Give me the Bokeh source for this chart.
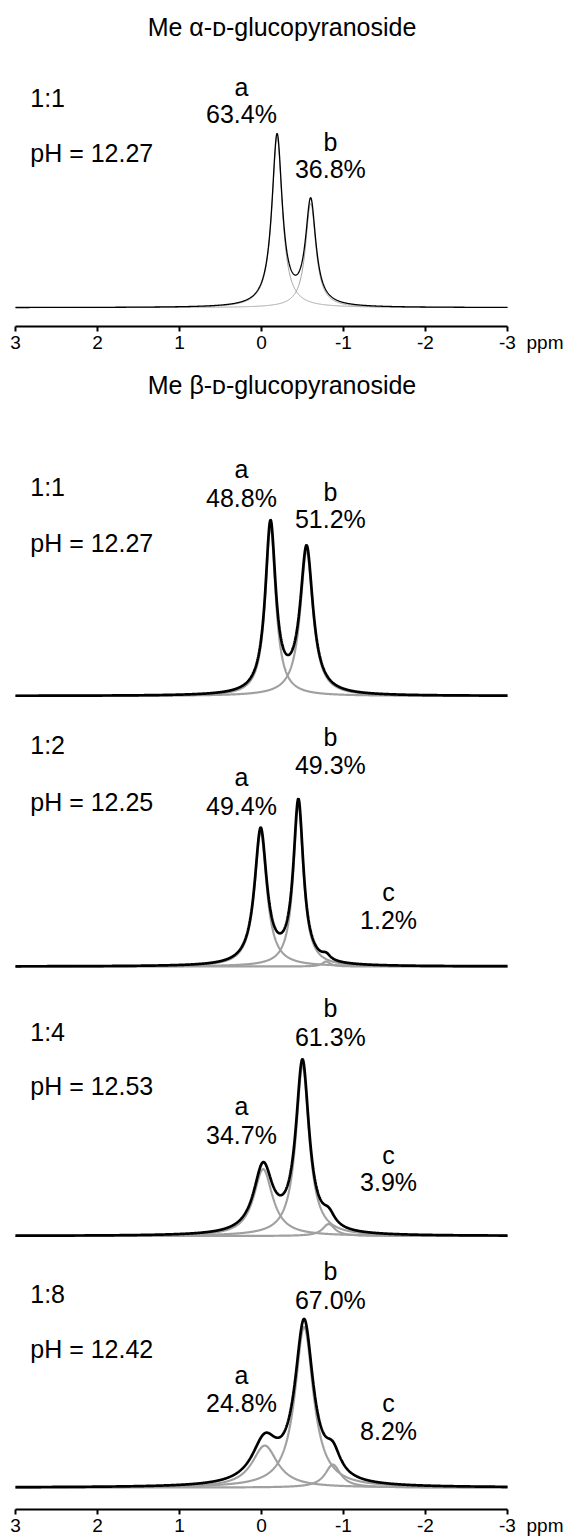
import numpy as np
from bokeh.plotting import figure
from bokeh.layouts import column
from bokeh.models import Range1d, FixedTicker, ColumnDataSource, CustomJSTickFormatter
from bokeh.core.properties import value
from bokeh.embed import file_html
from bokeh.resources import INLINE

FONT = "Liberation Sans"

# ---------------- data ----------------
titles = ["Me \u03b1-\u1d05-glucopyranoside", "Me \u03b2-\u1d05-glucopyranoside"]
ratios = ["1:1", "1:1", "1:2", "1:4", "1:8"]
ph_values = ["pH = 12.27", "pH = 12.27", "pH = 12.25", "pH = 12.53", "pH = 12.42"]
species = [["a", "b"], ["a", "b"], ["a", "b", "c"], ["a", "b", "c"], ["a", "b", "c"]]
percents = [["63.4%", "36.8%"], ["48.8%", "51.2%"], ["49.4%", "49.3%", "1.2%"],
            ["34.7%", "61.3%", "3.9%"], ["24.8%", "67.0%", "8.2%"]]
# fitted Lorentzian components: centre (ppm), peak height, half width at half height (ppm)
centers = [[-0.19, -0.60], [-0.11, -0.55], [0.01, -0.45, -0.79],
           [-0.02, -0.50, -0.82], [-0.04, -0.52, -0.87]]
heights = [[172, 105], [170, 146], [135, 163, 5], [67, 171, 12], [42, 161, 23]]
widths = [[0.076, 0.076], [0.077, 0.094], [0.09, 0.074, 0.06],
          [0.14, 0.098, 0.092], [0.19, 0.136, 0.115]]
tick_values = [3, 2, 1, 0, -1, -2, -3]
unit_label = "ppm"

# ---------------- layout (positions, not data) ----------------
PX_PER_PPM = 82.0
FIG_W = 563
X_LEFT = 3 + 15 / PX_PER_PPM
X_RIGHT = X_LEFT - FIG_W / PX_PER_PPM
BOTTOM = 27
base_off = [19, 815, 544, 274, 22]
lab_x = [0.244, -0.84, -1.55]
LET_UP = 8   # vertical correction for letters
NUM_UP = 9   # vertical correction for numbers
lab_y = [[[214, 186], [159, 131]],
         [[219, 189], [196, 168]],
         [[182, 152], [222, 193], [67, 38]],
         [[122, 92], [220, 190], [73, 45]],
         [[105, 76], [209, 179], [77, 48]]]
left_x = 2.82
left_y = [[202, 147], [200, 144], [213, 156], [195, 141], [185, 130]]

xs = np.linspace(3.0, -3.0, 1801)

TXT = "25px"
TICK = "19px"
PAD = "\\u00a0" * 9  # keeps "-3" centred on its tick while the unit follows it
GAP = "\\u00a0" * 2


def lorentz(x, c, h, w):
    return h / (1.0 + ((x - c) / w) ** 2)


def make_fig(title, height, top):
    p = figure(width=FIG_W, height=height,
               x_range=Range1d(X_LEFT, X_RIGHT),
               y_range=Range1d(0, height - top - BOTTOM),
               toolbar_location=None, output_backend="svg",
               min_border_left=0, min_border_right=0,
               min_border_top=top, min_border_bottom=BOTTOM,
               y_axis_location=None, title=title)
    p.title.text_font = FONT
    p.title.text_font_size = TXT
    p.title.text_font_style = "normal"
    p.title.align = "center"
    p.title.text_color = "black"
    p.grid.visible = False
    p.outline_line_color = None
    ax = p.xaxis[0]
    ax.bounds = (min(tick_values), max(tick_values))
    ax.ticker = FixedTicker(ticks=tick_values)
    last = min(tick_values)
    ax.formatter = CustomJSTickFormatter(
        code='if (tick == %d) { return "%s" + String(tick) + "%s%s"; } return String(tick);'
             % (last, PAD, GAP, unit_label))
    ax.minor_tick_line_color = None
    ax.major_tick_in = 0
    ax.major_tick_out = 5
    ax.axis_line_width = 2
    ax.major_tick_line_width = 2
    ax.axis_line_color = "black"
    ax.major_tick_line_color = "black"
    ax.major_label_text_font = FONT
    ax.major_label_text_font_size = TICK
    ax.major_label_text_color = "black"
    ax.major_label_standoff = 0
    ax.axis_label_standoff = 0
    return p


def draw_panel(p, i, thin):
    off = base_off[i]
    total = np.zeros_like(xs)
    gray_w = 1.0 if thin else 2.2
    black_w = 1.3 if thin else 2.7
    gray_c = "#a0a0a0"
    for c, h, w in zip(centers[i], heights[i], widths[i]):
        comp = lorentz(xs, c, h, w)
        total += comp
        p.line(xs, off + comp, line_color=gray_c, line_width=gray_w)
    p.line(xs, off + total, line_color="black", line_width=black_w)
    tx, ty, tt = [], [], []
    for k, (sp, pc) in enumerate(zip(species[i], percents[i])):
        tx += [lab_x[k], lab_x[k]]
        ty += [off + lab_y[i][k][0] + LET_UP, off + lab_y[i][k][1] + NUM_UP]
        tt += [sp, pc]
    src = ColumnDataSource(dict(x=tx, y=ty, t=tt))
    p.text("x", "y", text="t", source=src, text_font=value(FONT),
           text_font_size=value(TXT), text_align="center",
           text_baseline="alphabetic", text_color="black")
    src2 = ColumnDataSource(dict(x=[left_x, left_x],
                                 y=[off + left_y[i][0] + NUM_UP,
                                    off + left_y[i][1] + NUM_UP],
                                 t=[ratios[i], ph_values[i]]))
    p.text("x", "y", text="t", source=src2, text_font=value(FONT),
           text_font_size=value(TXT), text_align="left",
           text_baseline="alphabetic", text_color="black")


figA = make_fig(titles[0], 355, 45)
draw_panel(figA, 0, True)

figB = make_fig(titles[1], 1183, 48)
for i in range(1, 5):
    draw_panel(figB, i, False)

layout = column(figA, figB, spacing=0)
open("out.html", "w").write(file_html(layout, INLINE))
